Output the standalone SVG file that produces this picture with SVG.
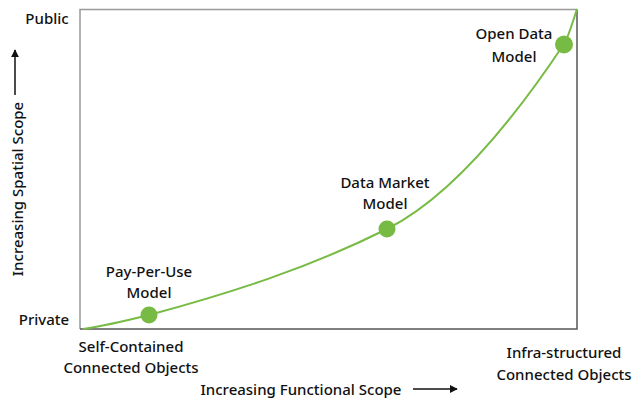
<svg xmlns="http://www.w3.org/2000/svg" width="632" height="401" viewBox="0 0 632 401">
<defs>
<style>
text{font-family:"Noto Sans","DejaVu Sans",sans-serif;font-size:15px;font-weight:500;fill:#111;text-anchor:middle}
.curve{fill:none;stroke:#77bb44;stroke-width:2}
.dot{fill:#77bb44}
.ax{stroke:#111;stroke-width:1.5;fill:none}
</style>
<marker id="ah" viewBox="0 0 10 10" refX="9" refY="5" markerWidth="8" markerHeight="8" markerUnits="userSpaceOnUse" orient="auto">
<path d="M0,0 L10,5 L0,10 z" fill="#111"/>
</marker>
</defs>
<rect width="632" height="401" fill="#fff"/>
<g id="frame">
<path d="M80,329 V9.5 H577" fill="none" stroke="#999" stroke-width="1.5"/>
<path d="M80,329 H577 V9.5" fill="none" stroke="#555" stroke-width="1.5"/>
</g>
<g id="connectors">
<path class="curve" d="M83,329 C105,325.7 127,320.5 149,315 C228.3,293.6 307.7,268.7 387,229 C446,199.5 505,132.5 564,44 C568.3,37.5 572.7,22 577,9"/>
<line class="ax" x1="15" y1="95" x2="15" y2="50" marker-end="url(#ah)"/>
<line class="ax" x1="413" y1="389" x2="457" y2="389" marker-end="url(#ah)"/>
</g>
<g id="axis-labels">
<text x="47" y="24">Public</text>
<text x="44" y="325">Private</text>
<text x="131" y="352">Self-Contained</text>
<text x="131" y="373">Connected Objects</text>
<text x="564" y="358">Infra-structured</text>
<text x="564" y="380">Connected Objects</text>
<text x="301" y="395">Increasing Functional Scope</text>
<text transform="translate(23,189) rotate(-90)">Increasing Spatial Scope</text>
</g>
<g id="pay-per-use">
<circle class="dot" cx="149" cy="315" r="8.5"/>
<text x="149" y="277">Pay-Per-Use</text>
<text x="149" y="298">Model</text>
</g>
<g id="data-market">
<circle class="dot" cx="387" cy="229" r="8.5"/>
<text x="385" y="188">Data Market</text>
<text x="385" y="209">Model</text>
</g>
<g id="open-data">
<circle class="dot" cx="564" cy="44.5" r="9"/>
<text x="514" y="39">Open Data</text>
<text x="514" y="62">Model</text>
</g>
</svg>
